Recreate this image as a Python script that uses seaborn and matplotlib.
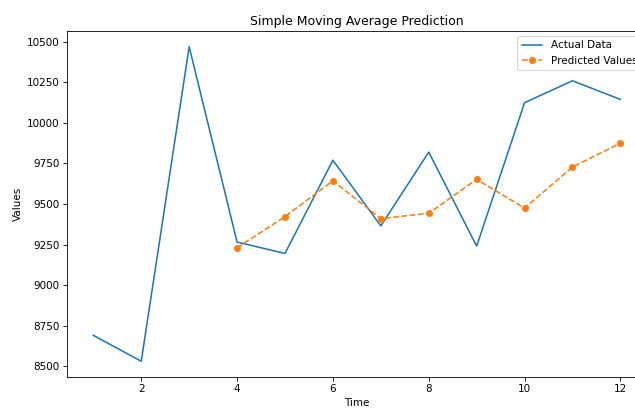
import matplotlib
matplotlib.use("Agg")
import matplotlib.pyplot as plt
import seaborn as sns
import pandas as pd

time_actual = [1, 2, 3, 4, 5, 6, 7, 8, 9, 10, 11, 12]
actual_values = [8690, 8530, 10470, 9265, 9195, 9770, 9365, 9820, 9240, 10125, 10260, 10145]
time_pred = [4, 5, 6, 7, 8, 9, 10, 11, 12]
predicted_values = [9230, 9422, 9643, 9410, 9443, 9652, 9475, 9728, 9875]

df_a = pd.DataFrame({"Time": time_actual, "Values": actual_values})
df_p = pd.DataFrame({"Time": time_pred, "Values": predicted_values})

DPI = 75
fig = plt.figure(figsize=(635 / DPI, 408 / DPI), dpi=DPI)
ax = fig.add_axes([0.1055, 0.076, 0.913, 0.848])

sns.lineplot(data=df_a, x="Time", y="Values", ax=ax, color="tab:blue", label="Actual Data")
sns.lineplot(data=df_p, x="Time", y="Values", ax=ax, color="tab:orange", linestyle="--",
             marker="o", markeredgecolor="tab:orange", label="Predicted Values")

ax.set_title("Simple Moving Average Prediction")
ax.set_xlabel("Time")
ax.set_ylabel("Values")
ax.legend(loc="upper right")

fig.savefig("out.png", dpi=DPI)
